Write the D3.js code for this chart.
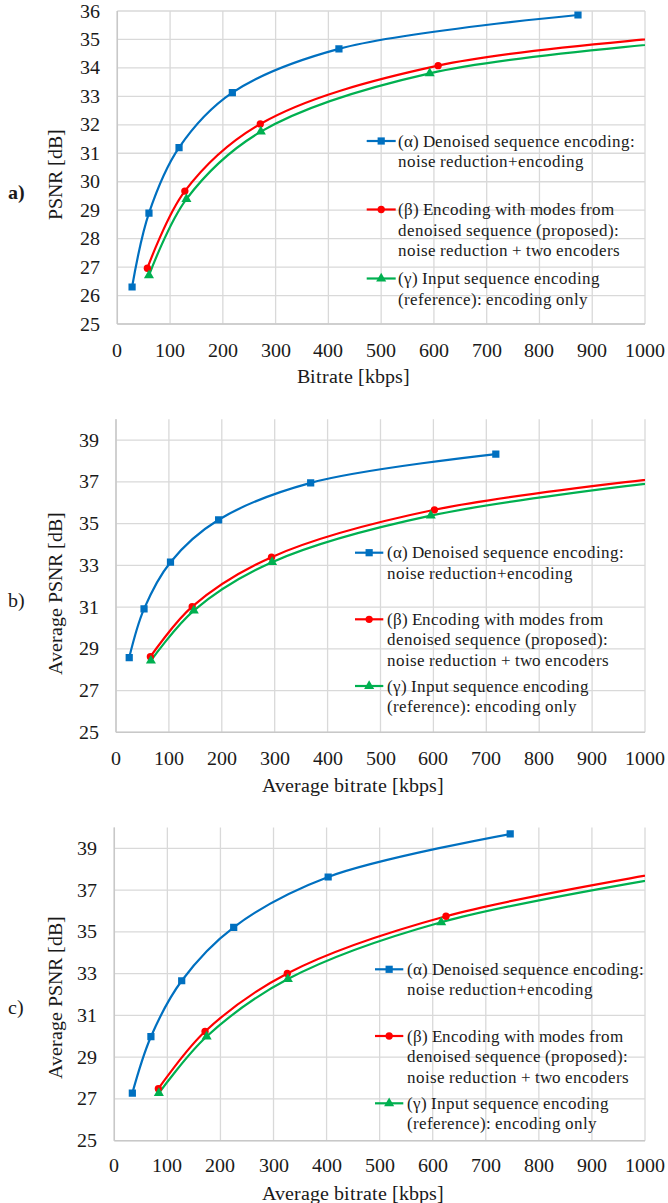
<!DOCTYPE html>
<html>
<head>
<meta charset="utf-8">
<script src="https://cdn.jsdelivr.net/npm/d3@7"></script>
<style>
  @font-face { font-family: "ChartSerif"; src: local("Liberation Serif"), local("LiberationSerif"), local("Times New Roman"); font-weight: normal; }
  @font-face { font-family: "ChartSerif"; src: local("Liberation Serif Bold"), local("LiberationSerif-Bold"); font-weight: bold; }
  body { margin: 0; font-family: "Liberation Serif", serif; }
  svg, svg text { font-family: "ChartSerif", "Liberation Serif", "Times New Roman", serif; }
</style>
</head>
<body>
<svg width="668" height="1203" font-family="Liberation Serif"></svg>
<script>
  // ---- data (kbps, dB) ----
  // points past 1000 kbps are clipped by the plot area, like in the original
  const alphaA = [[28, 26.3], [60, 28.9], [117, 31.2], [218, 33.13], [420, 34.67], [873, 35.86]];
  const betaA  = [[57, 26.96], [128, 29.67], [271, 32.03], [608, 34.08], [1200, 35.3]];
  const gammaA = [[60, 26.71], [131, 29.39], [272, 31.76], [592, 33.81], [1200, 35.12]];

  const alphaB = [[25, 28.58], [53, 30.91], [103, 33.15], [194, 35.18], [368, 36.95], [718, 38.33]];
  const betaB  = [[65, 28.62], [144, 31.02], [294, 33.39], [602, 35.66], [1200, 37.65]];
  const gammaB = [[66, 28.43], [147, 30.83], [295, 33.15], [595, 35.38], [1200, 37.5]];

  const alphaC = [[34, 27.28], [69, 29.98], [127, 32.66], [225, 35.22], [403, 37.63], [746, 39.69]];
  const betaC  = [[83, 27.49], [171, 30.23], [326, 33.01], [625, 35.75], [1200, 38.55]];
  const gammaC = [[84, 27.28], [174, 29.99], [327, 32.74], [616, 35.46], [1200, 38.3]];

  const xTicks = [0, 100, 200, 300, 400, 500, 600, 700, 800, 900, 1000];
  const yTicksA = [25, 26, 27, 28, 29, 30, 31, 32, 33, 34, 35, 36];
  const yTicksBC = [25, 27, 29, 31, 33, 35, 37, 39];

  const legendLabels = [
    ['(α) Denoised sequence encoding:', 'noise reduction+encoding'],
    ['(β) Encoding with modes from', 'denoised sequence (proposed):', 'noise reduction + two encoders'],
    ['(γ) Input sequence encoding', '(reference): encoding only']
  ];

  const colors = ['#0070c0', '#ff0000', '#00b050'];
  const markers = [d3.symbolSquare, d3.symbolCircle, d3.symbolTriangle];
  const markerSize = [52, 42, 44];

  const panels = [
    { id: 'a', label: 'a)', bold: true, series: [alphaA, betaA, gammaA],
      left: 117.3, right: 645, top: 11, bottom: 324, yDomain: [25, 36], yTicks: yTicksA,
      yTitle: 'PSNR [dB]', xTitle: 'Bitrate [kbps]',
      xTickY: 350, xTitleY: 376, yTitleY: 174, labelY: 192,
      legendX: [366.7, 395.7, 398.3], legendY: [141, 209.5, 278.5] },
    { id: 'b', label: 'b)', bold: false, series: [alphaB, betaB, gammaB],
      left: 116, right: 645, top: 419.2, bottom: 732.3, yDomain: [25, 40], yTicks: yTicksBC,
      yTitle: 'Average PSNR [dB]', xTitle: 'Average bitrate [kbps]',
      xTickY: 758, xTitleY: 785, yTitleY: 593, labelY: 600,
      legendX: [355, 383.3, 387.3], legendY: [552.7, 619.3, 686] },
    { id: 'c', label: 'c)', bold: false, series: [alphaC, betaC, gammaC],
      left: 114.3, right: 645, top: 827.5, bottom: 1140.7, yDomain: [25, 40], yTicks: yTicksBC,
      yTitle: 'Average PSNR [dB]', xTitle: 'Average bitrate [kbps]',
      xTickY: 1165.7, xTitleY: 1193, yTitleY: 997, labelY: 1007,
      legendX: [375, 403.3, 406.7], legendY: [969.3, 1036, 1103.3] }
  ];

  const TEXT = '#1a1a1a';
  const svg = d3.select('svg');
  const lineGap = 20.5;

  const label = (parent, size) => parent.append('text')
      .attr('font-size', size)
      .attr('fill', TEXT);

  const drawPanel = p => {
    const xScale = d3.scaleLinear().domain([0, 1000]).range([p.left, p.right]);
    const yScale = d3.scaleLinear().domain(p.yDomain).range([p.bottom, p.top]);
    const g = svg.append('g');

    // gridlines from the scale ticks
    g.selectAll('.vgrid').data(xTicks).enter().append('line')
        .attr('x1', d => xScale(d)).attr('x2', d => xScale(d))
        .attr('y1', p.top).attr('y2', p.bottom)
        .attr('stroke', '#d9d9d9').attr('stroke-width', 1.3);
    g.selectAll('.hgrid').data(p.yTicks).enter().append('line')
        .attr('x1', p.left).attr('x2', p.right)
        .attr('y1', d => yScale(d)).attr('y2', d => yScale(d))
        .attr('stroke', '#d9d9d9').attr('stroke-width', 1.3);

    // axis lines
    g.append('line')
        .attr('x1', p.left).attr('x2', p.right)
        .attr('y1', p.bottom).attr('y2', p.bottom)
        .attr('stroke', '#c8c8c8').attr('stroke-width', 1.5);
    g.append('line')
        .attr('x1', p.left).attr('x2', p.left)
        .attr('y1', p.top).attr('y2', p.bottom)
        .attr('stroke', '#c8c8c8').attr('stroke-width', 1.5);

    // tick labels
    xTicks.forEach(d => {
      label(g, 19.5)
          .attr('x', xScale(d))
          .attr('y', p.xTickY)
          .attr('text-anchor', 'middle')
          .attr('dominant-baseline', 'central')
          .text(d);
    });
    p.yTicks.forEach(d => {
      label(g, 19.5)
          .attr('x', p.left - 17.5)
          .attr('y', yScale(d))
          .attr('text-anchor', 'end')
          .attr('dominant-baseline', 'central')
          .text(d);
    });

    // axis titles
    label(g, 19.5)
        .attr('x', 353)
        .attr('y', p.xTitleY)
        .attr('text-anchor', 'middle')
        .attr('dominant-baseline', 'central')
        .text(p.xTitle);
    label(g, 19.5)
        .attr('transform', `translate(55,${p.yTitleY}) rotate(-90)`)
        .attr('text-anchor', 'middle')
        .attr('dominant-baseline', 'central')
        .text(p.yTitle);
    label(g, 20)
        .attr('x', 8)
        .attr('y', p.labelY)
        .attr('dominant-baseline', 'central')
        .attr('font-weight', p.bold ? 'bold' : 'normal')
        .text(p.label);

    // series, clipped to the plot area
    const clipId = 'clip-' + p.id;
    g.append('clipPath').attr('id', clipId)
      .append('rect')
        .attr('x', p.left - 10).attr('y', p.top - 10)
        .attr('width', p.right - p.left + 10).attr('height', p.bottom - p.top + 20);

    const line = d3.line()
        .x(d => xScale(d[0]))
        .y(d => yScale(d[1]))
        .curve(d3.curveCatmullRom.alpha(0.5));

    const plot = g.append('g').attr('clip-path', `url(#${clipId})`);
    p.series.forEach((s, i) => {
      plot.append('path')
          .attr('d', line(s))
          .attr('fill', 'none')
          .attr('stroke', colors[i])
          .attr('stroke-width', 2.2);
    });
    p.series.forEach((s, i) => {
      plot.selectAll('.m' + i).data(s.filter(d => d[0] <= 1000)).enter().append('path')
          .attr('transform', d => `translate(${xScale(d[0])},${yScale(d[1])})`)
          .attr('d', d3.symbol().type(markers[i]).size(markerSize[i]))
          .attr('fill', colors[i]);
    });

    // legend
    const legend = g.append('g');
    legendLabels.forEach((lines, i) => {
      const y = p.legendY[i];
      legend.append('line')
          .attr('x1', p.legendX[0]).attr('x2', p.legendX[1])
          .attr('y1', y).attr('y2', y)
          .attr('stroke', colors[i]).attr('stroke-width', 2.2);
      legend.append('path')
          .attr('transform', `translate(${(p.legendX[0] + p.legendX[1]) / 2},${y})`)
          .attr('d', d3.symbol().type(markers[i]).size(markerSize[i]))
          .attr('fill', colors[i]);
      lines.forEach((t, j) => {
        label(legend, 17)
            .attr('x', p.legendX[2])
            .attr('y', y + j * lineGap)
            .attr('dominant-baseline', 'central')
            .text(t);
      });
    });
  };

  panels.forEach(drawPanel);
</script>
</body>
</html>
